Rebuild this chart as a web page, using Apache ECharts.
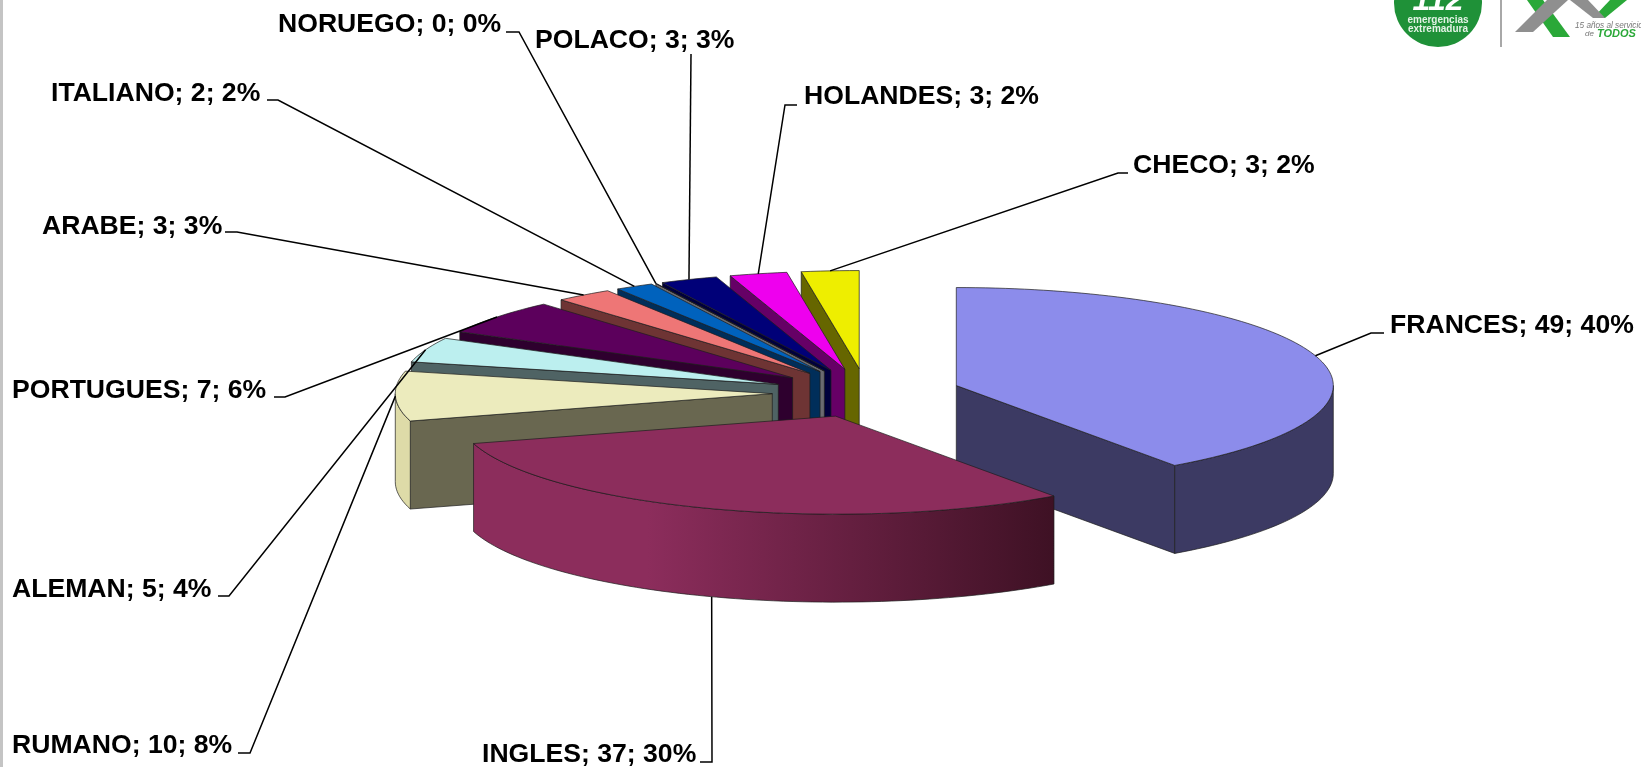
<!DOCTYPE html>
<html lang="es">
<head>
    <meta charset="UTF-8">
    <title>Idiomas</title>
    <script src="https://cdn.jsdelivr.net/npm/echarts@6/dist/echarts.min.js"></script>
    <style>
        html, body { margin: 0; padding: 0; background: #fff; }
        #main { width: 1641px; height: 767px; }
    </style>
</head>
<body>
    <div id="main"></div>
    <script>
        // datos, en el orden de las porciones
        var categories = ['FRANCES', 'INGLES', 'RUMANO', 'ALEMAN', 'PORTUGUES', 'ARABE', 'ITALIANO', 'NORUEGO', 'POLACO', 'HOLANDES', 'CHECO'];
        var values = [49, 37, 10, 5, 7, 3, 2, 0, 3, 3, 3];
        var percents = [40, 30, 8, 4, 6, 3, 2, 0, 3, 2, 2];

        // colores: tapa, pared, borde curvo (izquierda / derecha)
        var topColors = ['#8c8ceb', '#8c2d5c', '#ecebbd', '#bcefef', '#5c005c', '#ee7676', '#0062bd', '#8a8a8a', '#000078', '#ee00ee', '#eeee00'];
        var wallColors = ['#3c3a63', '#3e1124', '#696750', '#4f6364', '#2e002e', '#6e3434', '#002e5a', '#6a6a70', '#00003c', '#660066', '#666600'];
        var rimLeft = ['#3c3a63', '#8c2d5c', '#dedba8', '#4f6364', '#2e002e', '#6e3434', '#002e5a', '#6a6a70', '#00003c', '#660066', '#666600'];
        var rimRight = ['#3c3a63', '#3e1124', '#dedba8', '#4f6364', '#2e002e', '#6e3434', '#002e5a', '#6a6a70', '#00003c', '#660066', '#666600'];

        // posicion de cada etiqueta y de su guia: codo (joinX, stubY) y final junto al texto (endX, stubY)
        var labelX = [1390, 482, 12, 12, 12, 42, 51, 278, 535, 804, 1133];
        var labelY = [326, 755, 746, 590, 391, 227, 94, 25, 41, 97, 166];
        var stubJoinX = [1371, 712, 250, 229, 285, 237, 278, 519, 691, 785, 1118];
        var stubEndX = [1384, 700, 238, 218, 274, 225, 267, 506, 691, 797, 1128];
        var stubY = [333, 762, 753, 596, 397, 232, 100, 32, 54, 105, 173];

        // geometria del pastel en perspectiva
        var cx = 866.5, cy = 393, rx = 377, ry = 98, depth = 88, explodeX = 0.25, explodeY = 0.25;

        var total = values.reduce(function (a, b) { return a + b; }, 0);
        var starts = [];
        var sum = 0;
        values.forEach(function (v) {
            starts.push(sum / total * 360);
            sum += v;
        });

        function rad(d) { return d * Math.PI / 180; }

        function midAngle(i) {
            return starts[i] + values[i] / total * 180;
        }

        // vertice desplazado de cada porcion
        function apex(i) {
            var m = rad(midAngle(i));
            return [cx + explodeX * rx * Math.sin(m), cy - explodeY * ry * Math.cos(m)];
        }

        function rimPoint(a, t, dy) {
            return [a[0] + rx * Math.sin(rad(t)), a[1] - ry * Math.cos(rad(t)) + (dy || 0)];
        }

        function arc(a, from, to, dy) {
            var pts = [];
            var n = Math.max(1, Math.ceil((to - from) / 1.5));
            for (var k = 0; k <= n; k++) {
                pts.push(rimPoint(a, from + (to - from) * k / n, dy));
            }
            return pts;
        }

        // orden de pintado: primero las porciones del fondo
        var order = values.map(function (v, i) { return i; }).sort(function (p, q) {
            return Math.cos(rad(midAngle(q))) - Math.cos(rad(midAngle(p)));
        });
        var rank = [];
        order.forEach(function (idx, r) { rank[idx] = r; });

        var edge = '#1c1c1c';

        function wall(a, t, color, z2) {
            var r = rimPoint(a, t);
            return {
                type: 'polygon',
                z2: z2,
                shape: { points: [a, r, [r[0], r[1] + depth], [a[0], a[1] + depth]] },
                style: { fill: color, stroke: edge, lineWidth: 0.7 }
            };
        }

        function renderSlice(params, api) {
            var i = api.value(0);
            var a = apex(i);
            var start = starts[i];
            var end = start + values[i] / total * 360;
            var base = rank[i] * 10 + 1;
            var children = [];

            if (start > 180) {
                children.push(wall(a, start, wallColors[i], base));
            }
            if (end > 0 && end < 180) {
                children.push(wall(a, end, wallColors[i], base));
            }

            // pared curva, solo la parte que mira hacia delante
            var f = Math.max(start, 90);
            var t = Math.min(end, 270);
            if (t > f) {
                var up = arc(a, f, t, 0);
                var down = arc(a, f, t, depth).reverse();
                children.push({
                    type: 'polygon',
                    z2: base + 1,
                    shape: { points: up.concat(down) },
                    style: {
                        fill: {
                            type: 'linear', x: 0, y: 0, x2: 1, y2: 0,
                            colorStops: [
                                { offset: 0, color: rimLeft[i] },
                                { offset: 0.3, color: rimLeft[i] },
                                { offset: 1, color: rimRight[i] }
                            ]
                        },
                        stroke: edge,
                        lineWidth: 0.7
                    }
                });
            }

            children.push({
                type: 'polygon',
                z2: base + 2,
                shape: { points: [a].concat(arc(a, start, end, 0)) },
                style: { fill: topColors[i], stroke: edge, lineWidth: 0.7 }
            });

            // guia y etiqueta
            var m = midAngle(i);
            var front = -Math.cos(rad(m)) > 0.5 ? depth : 0;
            var anchor = rimPoint(a, m, front);
            children.push({
                type: 'polyline',
                z2: 500,
                shape: { points: [anchor, [stubJoinX[i], stubY[i]], [stubEndX[i], stubY[i]]] },
                style: { fill: null, stroke: '#000', lineWidth: 1.5 }
            });
            children.push({
                type: 'text',
                z2: 501,
                style: {
                    x: labelX[i],
                    y: labelY[i],
                    text: categories[i] + '; ' + values[i] + '; ' + percents[i] + '%',
                    font: 'bold 26.6px "Liberation Sans", Arial, sans-serif',
                    fill: '#000',
                    textAlign: 'left',
                    textVerticalAlign: 'middle'
                }
            });
            return { type: 'group', children: children };
        }

        var myChart = echarts.init(document.getElementById('main'), null, { renderer: 'canvas' });

        var green = '#2aa838';
        var logoGreen = '#1f9138';
        var grey = '#8f8f8f';

        var option = {
            backgroundColor: '#fff',
            animation: false,
            graphic: [
                { type: 'rect', shape: { x: 0, y: 0, width: 3, height: 767 }, style: { fill: '#c4c4c4' } },
                { type: 'circle', shape: { cx: 1438, cy: 3, r: 44 }, style: { fill: logoGreen } },
                { type: 'text', style: { x: 1438, y: 1, text: '112', font: 'italic bold 32px "Liberation Sans"', fill: '#fff', textAlign: 'center', textVerticalAlign: 'middle' } },
                { type: 'text', style: { x: 1438, y: 20, text: 'emergencias', font: 'bold 10px "Liberation Sans"', fill: '#e4f3e6', textAlign: 'center', textVerticalAlign: 'middle' } },
                { type: 'text', style: { x: 1438, y: 29, text: 'extremadura', font: 'bold 10px "Liberation Sans"', fill: '#e4f3e6', textAlign: 'center', textVerticalAlign: 'middle' } },
                { type: 'rect', shape: { x: 1500, y: 0, width: 2, height: 47 }, style: { fill: '#a8a8a8' } },
                { type: 'polygon', shape: { points: [[1527, 0], [1543, 0], [1570, 37], [1553, 37]] }, style: { fill: green } },
                { type: 'polygon', shape: { points: [[1515, 32], [1533, 32], [1568, 0], [1547, 0]] }, style: { fill: grey } },
                { type: 'polygon', shape: { points: [[1593, 18], [1605, 18], [1627, 0], [1610, 0]] }, style: { fill: green } },
                { type: 'polygon', shape: { points: [[1570, 0], [1588, 0], [1605, 18], [1593, 18]] }, style: { fill: grey } },
                { type: 'text', style: { x: 1575, y: 26, text: '15 años al servicio', font: 'italic 8.2px "Liberation Sans"', fill: '#777', textAlign: 'left', textVerticalAlign: 'middle' } },
                { type: 'text', style: { x: 1585, y: 34, text: 'de', font: 'italic 8px "Liberation Sans"', fill: '#777', textAlign: 'left', textVerticalAlign: 'middle' } },
                { type: 'text', style: { x: 1597, y: 34, text: 'TODOS', font: 'italic bold 11px "Liberation Sans"', fill: green, textAlign: 'left', textVerticalAlign: 'middle' } }
            ],
            series: [{
                type: 'custom',
                coordinateSystem: 'none',
                silent: true,
                clip: false,
                renderItem: renderSlice,
                data: categories.map(function (c, i) { return [i, values[i]]; })
            }]
        };

        myChart.setOption(option);
    </script>
</body>
</html>
